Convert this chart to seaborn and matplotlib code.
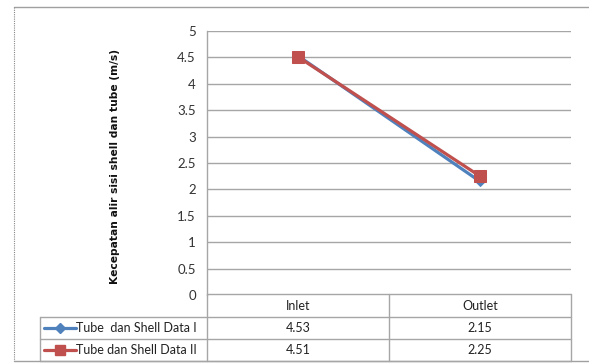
import matplotlib
matplotlib.use("Agg")
import matplotlib.pyplot as plt
from matplotlib.lines import Line2D
import seaborn as sns
import pandas as pd

# Data
categories = ["Inlet", "Outlet"]
series_names = ["Tube  dan Shell Data I", "Tube dan Shell Data II"]
data_i = [4.53, 2.15]
data_ii = [4.51, 2.25]
y_ticks = [0, 0.5, 1, 1.5, 2, 2.5, 3, 3.5, 4, 4.5, 5]
y_label = "Kecepatan alir sisi shell dan tube (m/s)"

series_values = [data_i, data_ii]
colors = ["#4F81BD", "#C0504D"]
markers = ["D", "s"]
marker_sizes = [5.5, 8]

df = pd.DataFrame({
    "Posisi": categories * 2,
    "Kecepatan": data_i + data_ii,
    "Seri": [series_names[0]] * 2 + [series_names[1]] * 2,
})

sns.set_style("white")
plt.rcParams["font.family"] = ["Lato", "DejaVu Sans"]

W, H = 589, 363
fig = plt.figure(figsize=(W / 100, H / 100), dpi=100)

def fx(px):
    return px / W

def fy(py):
    return 1 - py / H

ax_left, ax_right, ax_top, ax_bottom = 207, 571, 31, 295
ax = fig.add_axes([fx(ax_left), fy(ax_bottom), fx(ax_right - ax_left),
                   (ax_bottom - ax_top) / H])

for name, col, mk, ms in zip(series_names, colors, markers, marker_sizes):
    sub = df[df["Seri"] == name]
    sns.lineplot(data=sub, x="Posisi", y="Kecepatan", ax=ax, color=col,
                 marker=mk, markersize=ms, markeredgecolor=col,
                 linewidth=2.3, legend=False, sort=False)

ax.set_xlim(-0.5, 1.5)
ax.set_ylim(0, 5)
ax.set_yticks(y_ticks)
ax.set_yticklabels([f"{t:g}" for t in y_ticks], fontsize=9.5, color="#333333")
ax.set_xticks([])
ax.set_xlabel("")
ax.set_ylabel("")
ax.tick_params(axis="y", length=0, pad=8)
ax.grid(axis="y", color="#A6A6A6", linewidth=1)
for side in ["top", "right", "bottom"]:
    ax.spines[side].set_visible(False)
ax.spines["left"].set_color("#A6A6A6")
ax.spines["left"].set_linewidth(1)
ax.set_facecolor("none")

fig.text(fx(115), fy(166), y_label, rotation=90, ha="center", va="center",
         fontsize=7.7, fontweight="bold", color="#111111",
         family=["DejaVu Sans"])

# Outer chart frame
frame_col = "#A0A0A0"
fig.add_artist(Line2D([fx(14), fx(589)], [fy(7), fy(7)], color=frame_col, lw=1))
fig.add_artist(Line2D([fx(14), fx(14)], [fy(7), fy(361)], color="#888888",
                      lw=0.8, linestyle=(0, (1, 1))))
fig.add_artist(Line2D([fx(14), fx(589)], [fy(361), fy(361)], color=frame_col, lw=1))

# Data table under the plot area
tab_col = "#A6A6A6"
row_y = [294, 317, 339, 361]
col_x = [40, 207, 389, 571]
tab_lines = [
    ([col_x[1], col_x[3]], [row_y[0], row_y[0]]),
    ([col_x[0], col_x[3]], [row_y[1], row_y[1]]),
    ([col_x[0], col_x[3]], [row_y[2], row_y[2]]),
    ([col_x[0], col_x[3]], [row_y[3], row_y[3]]),
    ([col_x[0], col_x[0]], [row_y[1], row_y[3]]),
    ([col_x[1], col_x[1]], [row_y[0], row_y[3]]),
    ([col_x[2], col_x[2]], [row_y[0], row_y[3]]),
    ([col_x[3], col_x[3]], [row_y[0], row_y[3]]),
]
for xs, ys in tab_lines:
    fig.add_artist(Line2D([fx(x) for x in xs], [fy(y) for y in ys],
                          color=tab_col, lw=1))

for j, cat in enumerate(categories):
    cx = (col_x[j + 1] + col_x[j + 2]) / 2
    fig.text(fx(cx), fy((row_y[0] + row_y[1]) / 2), cat, ha="center",
             va="center", fontsize=9, color="#222222")

for i, (name, vals, col, mk, ms) in enumerate(zip(series_names, series_values,
                                                   colors, markers, marker_sizes)):
    cy = (row_y[i + 1] + row_y[i + 2]) / 2
    fig.add_artist(Line2D([fx(44), fx(76)], [fy(cy), fy(cy)], color=col,
                          lw=2.3))
    fig.add_artist(Line2D([fx(60)], [fy(cy)], color=col, lw=0, marker=mk,
                          markersize=ms * 0.9, markeredgecolor=col))
    fig.text(fx(76), fy(cy), name, ha="left", va="center", fontsize=9,
             color="#222222")
    for j, v in enumerate(vals):
        cx = (col_x[j + 1] + col_x[j + 2]) / 2
        fig.text(fx(cx), fy(cy), f"{v:.2f}", ha="center", va="center",
                 fontsize=9, color="#222222")

fig.savefig("out.png", dpi=100)
